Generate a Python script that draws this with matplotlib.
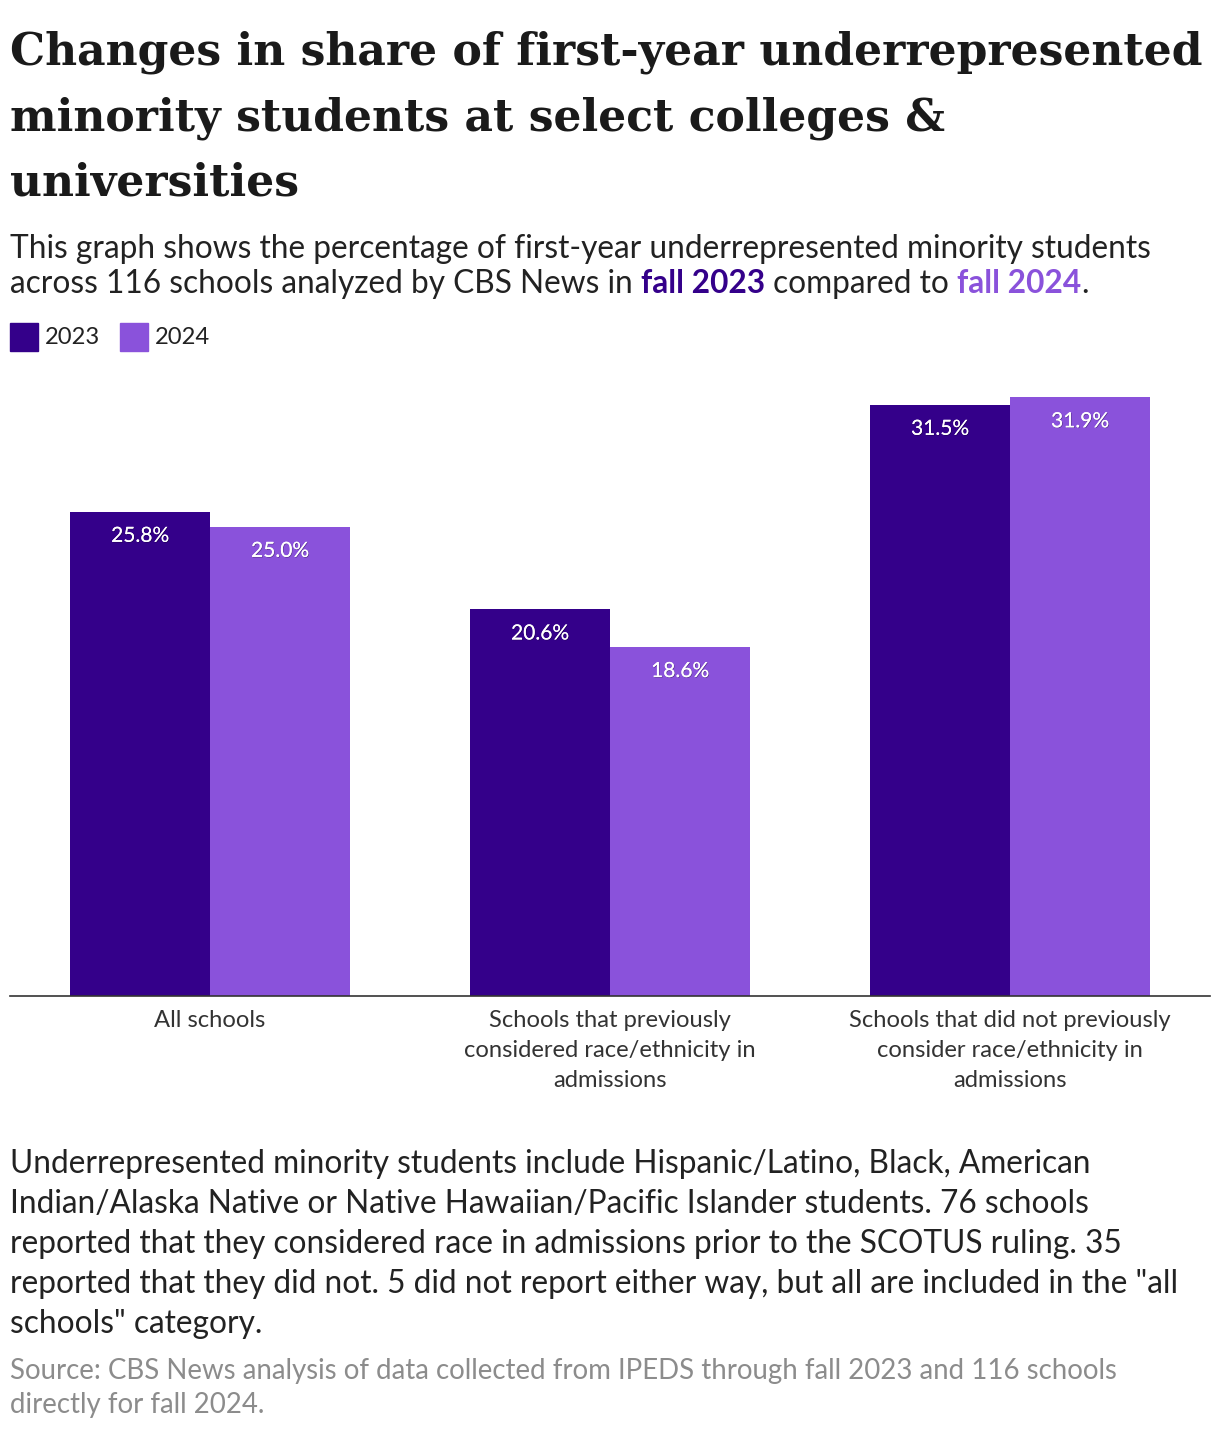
import matplotlib
matplotlib.use("Agg")
import matplotlib.pyplot as plt
import matplotlib.patheffects as pe
import numpy as np

# data
categories = ["All schools",
              "Schools that previously\nconsidered race/ethnicity in\nadmissions",
              "Schools that did not previously\nconsider race/ethnicity in\nadmissions"]
share_2023 = [25.8, 20.6, 31.5]
share_2024 = [25.0, 18.6, 31.9]
years = ["2023", "2024"]

c23 = "#34008a"
c24 = "#8a52db"
SANS = "Lato"
SERIF = "DejaVu Serif"

W, H = 1220, 1434
fig = plt.figure(figsize=(W / 100, H / 100), dpi=100)
renderer = fig.canvas.get_renderer()


def fy(y):
    return 1 - y / H


def fx(x):
    return x / W


def width_px(s, **kw):
    t = fig.text(0, 0, s, **kw)
    w = t.get_window_extent(renderer).width
    t.remove()
    return w


def fit(s, target, **kw):
    return 20 * target / width_px(s, fontsize=20, **kw)


# title
title = ["Changes in share of first-year underrepresented",
         "minority students at select colleges &",
         "universities"]
tsize = fit(title[0], 1195, family=SERIF, weight="bold")
for i, line in enumerate(title):
    fig.text(fx(10), fy(64 + i * 66), line, family=SERIF, weight="bold",
             fontsize=tsize, color="#1a1a1a", va="baseline")

# subtitle
sub1 = "This graph shows the percentage of first-year underrepresented minority students"
ssize = fit(sub1, 1145, family=SANS)
fig.text(fx(10), fy(258), sub1, family=SANS, fontsize=ssize, color="#222222", va="baseline")
space = width_px("a a", family=SANS, fontsize=ssize) - width_px("aa", family=SANS, fontsize=ssize)
pieces = [("across 116 schools analyzed by CBS News in", "normal", "#222222"),
          ("fall 2023", "bold", c23),
          ("compared to", "normal", "#222222"),
          ("fall 2024", "bold", c24)]
x = 10
for txt, wt, col in pieces:
    t = fig.text(fx(x), fy(293), txt, family=SANS, weight=wt, fontsize=ssize,
                 color=col, va="baseline")
    x += t.get_window_extent(renderer).width + space
fig.text(fx(x - space), fy(293), ".", family=SANS, fontsize=ssize, color="#222222", va="baseline")

# legend
lsize = fit("2023", 55, family=SANS)
for i, (yr, col) in enumerate(zip(years, [c23, c24])):
    lx = 10 + i * 110
    fig.patches.append(plt.Rectangle((fx(lx), fy(351)), 28 / W, 28 / H,
                                     transform=fig.transFigure, color=col))
    fig.text(fx(lx + 35), fy(344), yr, family=SANS, fontsize=lsize, color="#222222", va="baseline")

# bars
ax = fig.add_axes([fx(10), fy(996), 1200 / W, (996 - 380) / H])
xpos = np.arange(len(categories))
bw = 0.35
b1 = ax.bar(xpos - bw / 2, share_2023, bw, color=c23)
b2 = ax.bar(xpos + bw / 2, share_2024, bw, color=c24)
ax.set_xlim(-0.5, 2.5)
ax.set_ylim(0, 31.9 * 616 / 599)
vsize = fit("31.5%", 58, family=SANS)
shadow = [pe.withSimplePatchShadow(offset=(0.5, -0.5), shadow_rgbFace="black", alpha=0.35), pe.Normal()]
for bars in (b1, b2):
    for b in bars:
        ax.annotate(f"{b.get_height():.1f}%", (b.get_x() + b.get_width() / 2, b.get_height()),
                    xytext=(0, -17.5), textcoords="offset points", ha="center", va="center",
                    color="white", fontsize=vsize, family=SANS, path_effects=shadow)

for s in ["top", "right", "left"]:
    ax.spines[s].set_visible(False)
ax.spines["bottom"].set_color("#333333")
ax.spines["bottom"].set_linewidth(1.2)
ax.set_yticks([])
ax.set_xticks(xpos)
xsize = fit("Schools that did not previously", 322, family=SANS)
ax.set_xticklabels(categories, family=SANS, fontsize=xsize, color="#333333", linespacing=1.52)
ax.tick_params(axis="x", length=0, pad=10)

# footnote
note = ["Underrepresented minority students include Hispanic/Latino, Black, American",
        "Indian/Alaska Native or Native Hawaiian/Pacific Islander students. 76 schools",
        "reported that they considered race in admissions prior to the SCOTUS ruling. 35",
        "reported that they did not. 5 did not report either way, but all are included in the \"all",
        "schools\" category."]
nsize = fit(note[0], 1082, family=SANS)
for i, line in enumerate(note):
    fig.text(fx(10), fy(1173 + i * 40), line, family=SANS, fontsize=nsize,
             color="#222222", va="baseline")

src = ["Source: CBS News analysis of data collected from IPEDS through fall 2023 and 116 schools",
       "directly for fall 2024."]
srsize = fit(src[0], 1107, family=SANS)
for i, line in enumerate(src):
    fig.text(fx(10), fy(1379 + i * 34), line, family=SANS, fontsize=srsize,
             color="#8c8c8c", va="baseline")

fig.savefig("out.png", dpi=100)
